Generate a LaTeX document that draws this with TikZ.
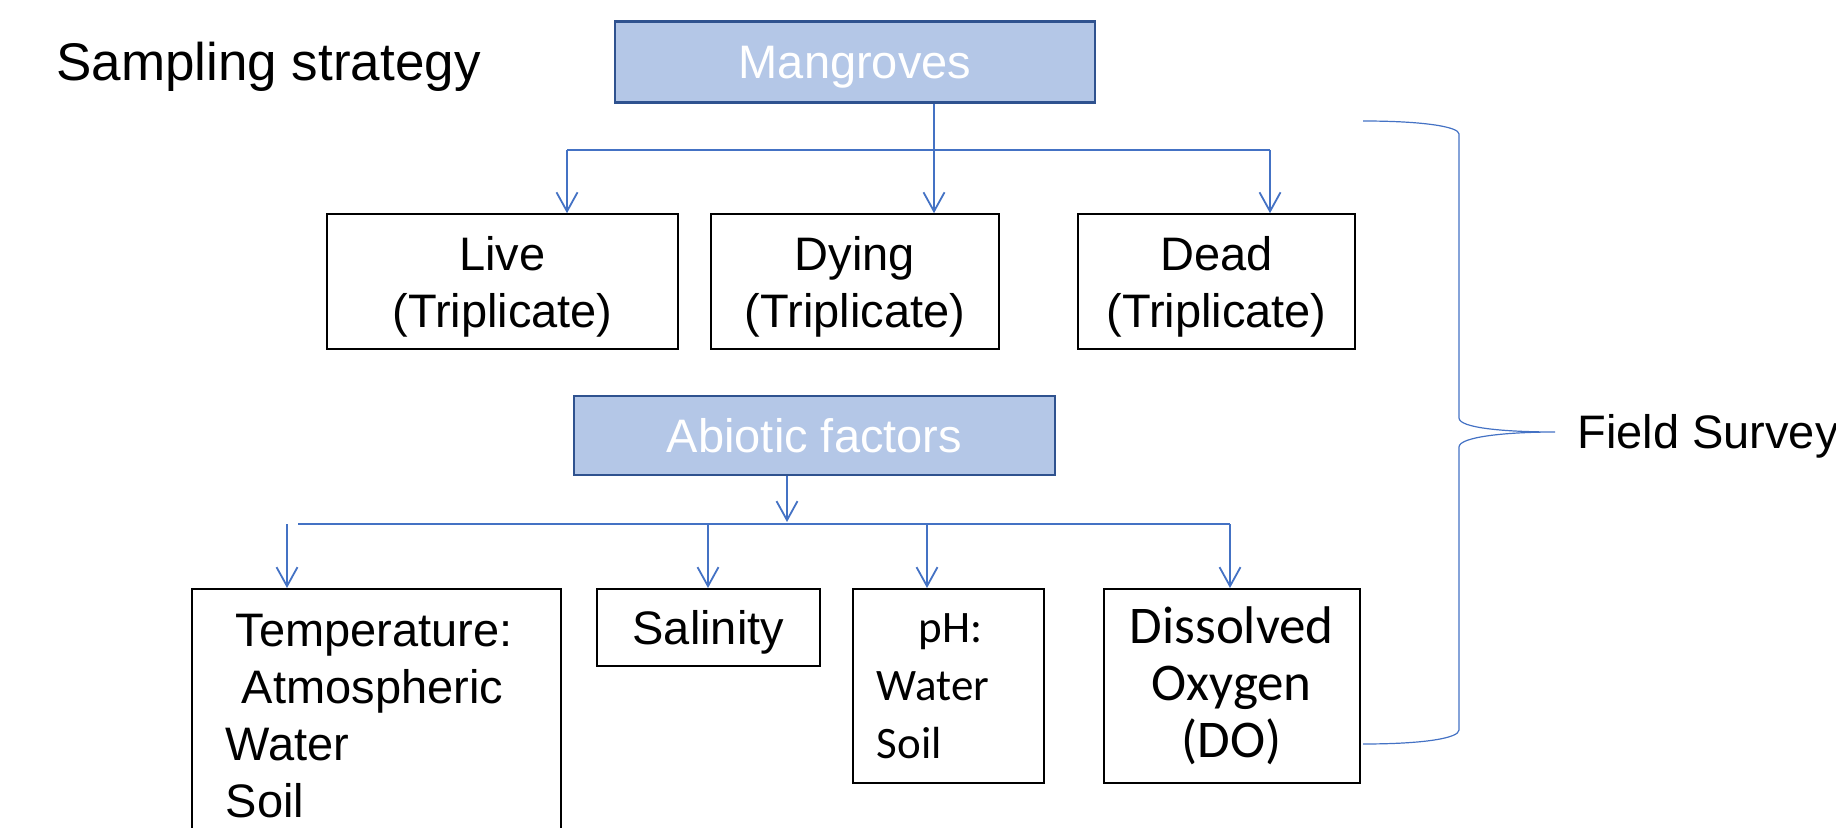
\documentclass[tikz,border=0pt]{standalone}
\usepackage{fontspec}
\setmainfont{Liberation Sans}
\newfontfamily\calib{Carlito}
\usetikzlibrary{arrows.meta}
\definecolor{hdrfill}{HTML}{B4C7E7}
\definecolor{hdrdraw}{HTML}{2F528F}
\definecolor{conncol}{HTML}{4472C4}
\tikzset{
  hdrbox/.style={draw=hdrdraw, line width=1.2pt, fill=hdrfill, text=white, inner sep=0pt,
    text depth=0pt, font=\fontsize{23.5pt}{28.5pt}\selectfont},
  leafbox/.style={draw=black, line width=0.8pt, inner sep=0pt, align=center,
    font=\fontsize{23.5pt}{28.5pt}\selectfont},
  bar/.style={draw=conncol, line width=0.6pt},
  arr/.style={draw=conncol, line width=0.9pt, -{Straight Barb[length=9.5pt,width=10.5pt]}},
  bracestyle/.style={draw=conncol, line width=0.6pt},
}
\begin{document}
\begin{tikzpicture}[x=0.5pt,y=-0.5pt]
\useasboundingbox (0,0) rectangle (1836,828);

\node[anchor=base west, inner sep=0pt, font=\fontsize{26.5pt}{32pt}\selectfont] (title) at (56,81) {Sampling strategy};

% Mangroves
\node[hdrbox, minimum width=240pt, minimum height=40.5pt] (mang) at (855,62) {Mangroves};
\node[leafbox, text depth=0pt, minimum width=175.5pt, minimum height=67.5pt] (live) at (502.5,281.5) {Live\\(Triplicate)};
\node[leafbox, text depth=0pt, minimum width=144pt, minimum height=67.5pt] (dying) at (855,281.5) {Dying\\(Triplicate)};
\node[leafbox, text depth=0pt, minimum width=138.5pt, minimum height=67.5pt] (dead) at (1216.5,281.5) {Dead\\(Triplicate)};

\coordinate (mL) at (567,150);
\coordinate (mM) at (934,150);
\coordinate (mR) at (1270,150);
\draw[bar] (mL) -- (mR);
\draw[arr] (mang.south -| mM) -- (dying.north -| mM);
\draw[arr] (mL) -- (live.north -| mL);
\draw[arr] (mR) -- (dead.north -| mR);

% Abiotic
\node[hdrbox, minimum width=240.5pt, minimum height=39.5pt] (abio) at (814.5,435.5) {Abiotic factors};
\node[leafbox, align=left, anchor=north west, text width=150.5pt, inner xsep=17pt, minimum height=127pt] (temp) at (191,588)
  {\hspace*{5pt}Temperature:\\\hspace*{8pt}Atmospheric\\Water\\Soil};
\node[leafbox, text depth=0pt, anchor=north west, minimum width=111.5pt, minimum height=38.5pt] (sal) at (596,588) {Salinity};
\node[leafbox, align=left, anchor=north west, text width=71.5pt, inner xsep=12pt, minimum height=97pt,
  font=\calib\fontsize{22.5pt}{29pt}\selectfont] (ph) at (852,588)
  {\hspace*{21pt}pH:\\Water\\Soil};
\node[leafbox, anchor=north west, minimum width=128pt, minimum height=97pt,
  font=\calib\fontsize{26.5pt}{28.5pt}\selectfont] (do) at (1103,588)
  {Dissolved\\Oxygen\\(DO)};

\coordinate (aL) at (298,524);
\coordinate (aR) at (1230,524);
\coordinate (aT) at (287,524);
\coordinate (aS) at (708,524);
\coordinate (aP) at (927,524);
\draw[bar] (aL) -- (aR);
\draw[arr] (abio.south -| 787,0) -- (787,522);
\draw[arr] (aT) -- (temp.north -| aT);
\draw[arr] (aS) -- (sal.north -| aS);
\draw[arr] (aP) -- (ph.north -| aP);
\draw[arr] (aR) -- (do.north -| aR);

% Brace
\coordinate (bTop) at (1363,121);
\coordinate (bTip) at (1555,432);
\coordinate (bBot) at (1363,744);
\draw[bracestyle] (bTop) .. controls (1425,121) and (1459,127) .. (1459,134)
  -- (1459,418) .. controls (1459,428) and (1505,432) .. (bTip)
  .. controls (1505,432) and (1459,437) .. (1459,447)
  -- (1459,730) .. controls (1459,738) and (1425,744) .. (bBot);
\node[anchor=base west, inner sep=0pt, font=\fontsize{23.5pt}{28.5pt}\selectfont] (fs) at (1577,449) {Field Survey};
\end{tikzpicture}
\end{document}
